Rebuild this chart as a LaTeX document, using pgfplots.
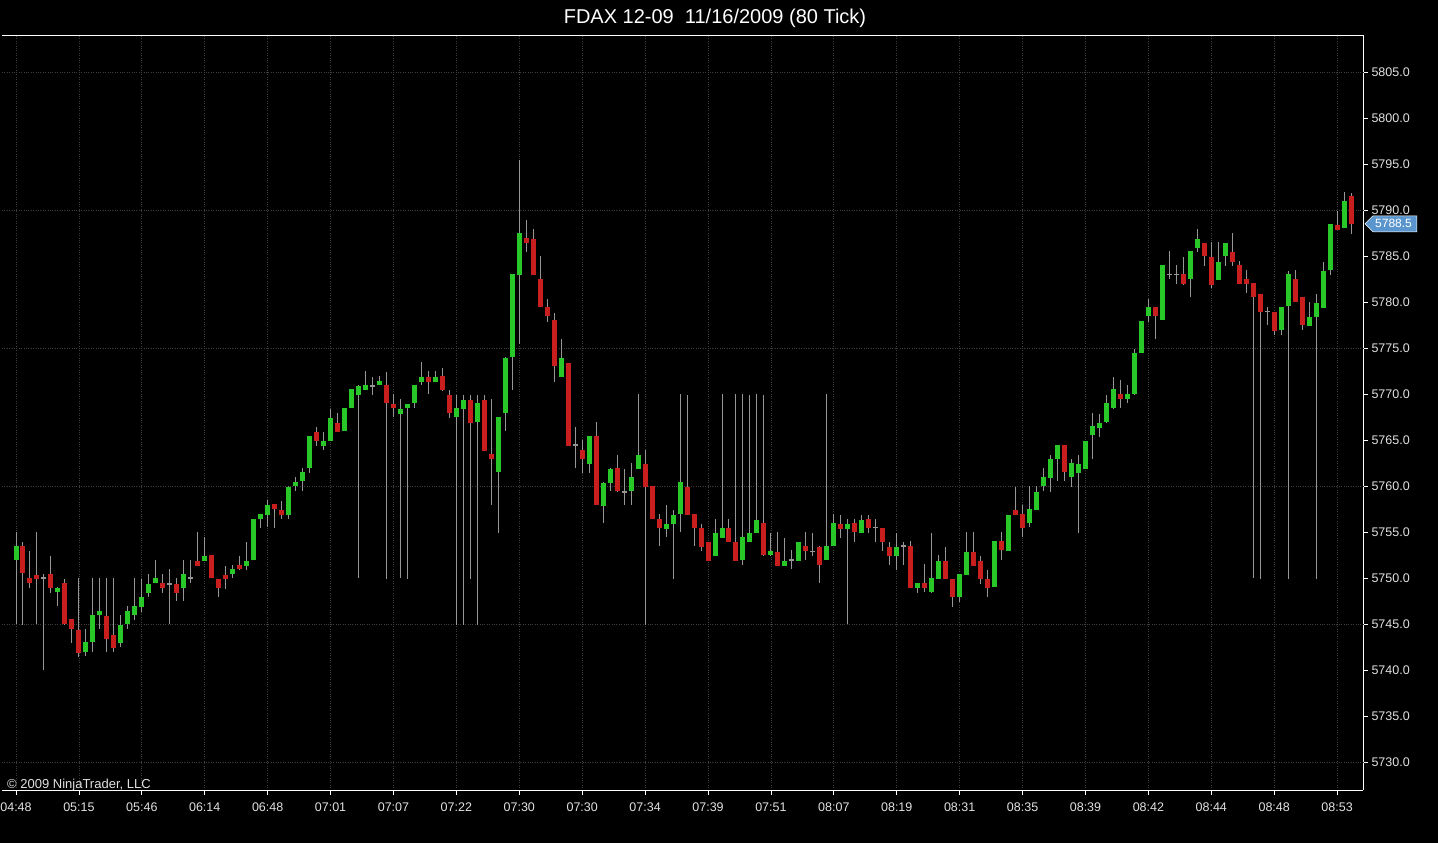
\documentclass[border=0pt]{standalone}
\usepackage{fontspec}
\setmainfont{Liberation Sans}
\usepackage{pgfplots}
\pgfplotsset{compat=1.18}
\usepackage{pgfplotstable}
\definecolor{upc}{RGB}{40,200,40}
\definecolor{dnc}{RGB}{200,30,30}
\definecolor{wick}{RGB}{150,150,150}
\definecolor{gridc}{RGB}{62,62,62}
\definecolor{mk}{RGB}{90,150,205}
\definecolor{tl}{RGB}{225,225,225}
\pgfplotstableread{
i o h l c
0 5752 5755 5745 5753.5
1 5753.5 5754 5745 5750.5
2 5750 5753 5749 5749.5
3 5750.5 5755 5745 5750
4 5750 5750.5 5740 5750
5 5750.5 5752.5 5748.5 5749
6 5748.5 5749 5747 5749
7 5749.5 5750 5745 5745
8 5745.5 5745.5 5743 5744.5
9 5744.5 5750 5741.5 5742
10 5742 5744.5 5741.5 5743
11 5743 5750 5742 5746
12 5746 5750 5744.5 5746.5
13 5746 5750 5742 5743.5
14 5744 5750 5742 5742.5
15 5743 5746 5742.5 5745
16 5745 5747 5744.5 5746.5
17 5746 5750 5745.5 5747
18 5747 5750 5746.5 5748
19 5748.5 5750.5 5748 5749.5
20 5749.5 5752 5749.5 5750
21 5749.5 5750.5 5748.5 5749
22 5749.5 5751 5745 5749.5
23 5749.5 5750 5747.5 5748.5
24 5749 5752 5747.5 5750.5
25 5750 5752 5749.5 5750
26 5752 5755 5751.5 5751.5
27 5752 5754.5 5752 5752.5
28 5752.5 5752.5 5750 5750
29 5750 5750 5748 5749
30 5750.5 5751.5 5749 5750
31 5750.5 5751.5 5750 5751
32 5751.5 5752.5 5751 5751
33 5751.5 5754 5751 5752
34 5752 5756.5 5752 5756.5
35 5756.5 5757 5755.5 5757
36 5757 5758.5 5755.5 5758
37 5758 5758 5755.5 5757.5
38 5757.5 5758.5 5756.5 5757
39 5757 5760 5756.5 5760
40 5760 5761 5759.5 5760.5
41 5760.5 5762 5759.5 5761.5
42 5762 5765.5 5761.5 5765.5
43 5766 5766.5 5764.5 5765
44 5764.5 5766 5764 5765
45 5765 5768.5 5765 5767.5
46 5767 5768 5766 5766
47 5766 5768.5 5766 5768.5
48 5768.5 5770.5 5768.5 5770.5
49 5770 5771 5750 5771
50 5770.5 5772.5 5770.5 5771
51 5771 5772 5770 5771
52 5771 5772 5771 5771.5
53 5771 5772.5 5750 5769
54 5769 5770 5767.5 5768.5
55 5768 5769.5 5750 5768.5
56 5768.5 5769 5750 5769
57 5769 5771 5768.5 5771
58 5771.5 5773.5 5771 5772
59 5772 5772.5 5770 5771.5
60 5771.5 5772.5 5771.5 5772
61 5772 5773 5770.5 5770.5
62 5770 5770.5 5767.5 5768
63 5767.5 5770 5745 5768.5
64 5768.5 5770 5745 5769.5
65 5769.5 5770 5750 5767
66 5767 5770 5745 5769
67 5769.5 5770 5764 5764
68 5763.5 5769.5 5758 5763
69 5761.5 5767.5 5755 5767.5
70 5768 5774 5766 5774
71 5774 5783 5770.5 5783
72 5783 5795.5 5775.5 5787.5
73 5787 5789 5785.5 5786.5
74 5787 5788 5783 5783
75 5782.5 5785 5779.5 5779.5
76 5779.5 5780.5 5778 5778.5
77 5778 5779 5771.5 5773
78 5772 5776 5772 5774
79 5773.5 5773.5 5764.5 5764.5
80 5764.5 5766.5 5762 5764.5
81 5764 5765 5761.5 5763
82 5762.5 5765.5 5761.5 5765.5
83 5765.5 5767 5758 5758
84 5758 5760.5 5756 5760.5
85 5760.5 5762 5759.5 5762
86 5762 5763.5 5759.5 5759.5
87 5759.5 5762 5758 5759.5
88 5759.5 5762.5 5758 5761
89 5762 5770 5762 5763.5
90 5762.5 5764 5745 5760
91 5760 5760 5756.5 5756.5
92 5756.5 5757 5753.5 5755.5
93 5755.5 5758 5754.5 5756
94 5756 5757.5 5750 5757
95 5757 5770 5755 5760.5
96 5760 5770 5757 5757
97 5757 5757 5753.5 5755.5
98 5755.5 5756 5753 5753.5
99 5754 5754 5752 5752
100 5752.5 5756.5 5752.5 5755
101 5754.5 5770 5754.5 5755.5
102 5755.5 5756.5 5754 5754
103 5754 5770 5752 5752
104 5752 5770 5751.5 5754.5
105 5754 5770 5754 5755
106 5755 5770 5755 5756.5
107 5756 5770 5752.5 5752.5
108 5752.5 5755 5752.5 5753
109 5753 5755 5751.5 5751.5
110 5751.5 5754.5 5751.5 5752
111 5752 5753 5751 5752
112 5752 5754 5752 5754
113 5753.5 5755 5752 5753
114 5753 5755 5752.5 5753
115 5753.5 5753.5 5749.5 5751.5
116 5752 5770 5752 5753.5
117 5753.5 5757 5753.5 5756
118 5756 5757 5754.5 5755.5
119 5755.5 5756.5 5745 5756
120 5756 5756.5 5754 5755
121 5755 5757 5755 5756.5
122 5756.5 5757 5755 5755.5
123 5755.5 5756.5 5754 5755.5
124 5755.5 5755.5 5753 5754
125 5753.5 5754 5751.5 5752.5
126 5752.5 5755 5751 5753.5
127 5753.5 5754 5751.5 5753.5
128 5753.5 5754 5749 5749
129 5749 5749.5 5748.5 5749.5
130 5749.5 5751.5 5748.5 5749
131 5748.5 5755 5748.5 5750
132 5750 5752.5 5750 5752
133 5752 5753.5 5750 5750
134 5750 5750 5747 5748
135 5748 5750.5 5747.5 5750.5
136 5750.5 5755 5750.5 5753
137 5753 5755 5751.5 5751.5
138 5752 5752.5 5749.5 5750
139 5750 5751 5748 5749
140 5749 5754 5749 5754
141 5754 5755 5752 5753
142 5753 5757 5753 5757
143 5757.5 5760 5757 5757
144 5757 5758 5754.5 5755.5
145 5756 5760 5755.5 5757.5
146 5757.5 5760 5757.5 5759.5
147 5760 5762 5759.5 5761
148 5761 5763.5 5759.5 5763
149 5763 5764.5 5760.5 5764.5
150 5764.5 5764.5 5760.5 5761.5
151 5761 5763 5760 5762.5
152 5761.5 5763.5 5755 5762.5
153 5762 5765 5762 5765
154 5765.5 5768 5763 5766.5
155 5766.5 5768 5765.5 5767
156 5767 5770 5767 5769
157 5768.5 5772 5768.5 5770.5
158 5770 5771.5 5768.5 5769.5
159 5769.5 5771 5769 5770
160 5770 5775 5770 5774.5
161 5774.5 5778 5774.5 5778
162 5778.5 5780.5 5778 5779.5
163 5779.5 5779.5 5776 5778.5
164 5778 5784 5778 5784
165 5783 5785.5 5782.5 5783
166 5783 5784 5782 5783
167 5783 5785 5782 5782
168 5782.5 5785.5 5780.5 5785.5
169 5786 5788 5785.5 5787
170 5786.5 5786.5 5784 5785
171 5785 5786.5 5781.5 5782
172 5782.5 5786.5 5782.5 5784.5
173 5785 5786.5 5784 5786.5
174 5785.5 5787.5 5784 5784.5
175 5784 5784.5 5782 5782
176 5782.5 5783.5 5781 5782
177 5782 5782 5750 5780.5
178 5781 5781 5750 5779
179 5779 5779.5 5777.5 5779
180 5779 5779 5776.5 5777
181 5777 5779.5 5776.5 5779.5
182 5779.5 5783.5 5750 5783
183 5782.5 5783.5 5780 5780
184 5780.5 5780.5 5777 5777.5
185 5777.5 5780 5777.5 5778.5
186 5778.5 5781 5750 5780
187 5779.5 5784.5 5779.5 5783.5
188 5783.5 5788.5 5783 5788.5
189 5788.5 5790 5788 5788
190 5788 5792 5788 5791
191 5791.5 5792 5787.5 5788.5
}\candles
\begin{document}
\begin{tikzpicture}[x=1pt,y=1pt]
\fill[black] (0,0) rectangle (1438,843);
\begin{axis}[
  at={(2pt,53pt)}, anchor=south west,
  scale only axis, width=1361pt, height=755pt,
  xmin=-2.003, xmax=192.70, ymin=5726.96, ymax=5809.02,
  axis x line*=bottom, axis y line*=right,
  axis background/.style={fill=black},
  axis line style={white, line width=0.8pt},
  xtick={0,9,...,189},
  xticklabels={04:48,05:15,05:46,06:14,06:48,07:01,07:07,07:22,07:30,07:30,07:34,07:39,07:51,08:07,08:19,08:31,08:35,08:39,08:42,08:44,08:48,08:53},
  ytick={5730,5735,...,5805},
  y tick label style={/pgf/number format/.cd, fixed, fixed zerofill, precision=1, 1000 sep={}},
  x tick label style={yshift=-4pt},
  /pgf/number format/assume math mode=true,
  tick label style={font=\fontsize{12.5}{14}\selectfont, text=tl},
  major tick length=5pt,
  tick style={white, line width=0.8pt},
  tick align=outside,
  xmajorgrids=true,
  grid style={gridc, dotted, line width=0.8pt},
  extra y ticks={5730,5745,5760,5775,5790,5805},
  extra y tick labels={},
  extra y tick style={ymajorgrids=true, major tick length=0pt},
]
% wicks
\addplot[draw=none, mark=none,
  error bars/.cd, y dir=both, y explicit, error mark=none,
  error bar style={draw=wick, line width=1pt}]
  table[x=i, y expr={(\thisrow{h}+\thisrow{l})/2}, y error expr={(\thisrow{h}-\thisrow{l})/2}] {\candles};
% up bodies
\addplot[draw=none, mark=none,
  restrict expr to domain={\thisrow{c}-\thisrow{o}}{0.1:100},
  error bars/.cd, y dir=both, y explicit, error mark=none,
  error bar style={draw=upc, line width=5pt}]
  table[x=i, y expr={(\thisrow{o}+\thisrow{c})/2}, y error expr={abs(\thisrow{c}-\thisrow{o})/2}] {\candles};
% down bodies
\addplot[draw=none, mark=none,
  restrict expr to domain={\thisrow{o}-\thisrow{c}}{0.1:100},
  error bars/.cd, y dir=both, y explicit, error mark=none,
  error bar style={draw=dnc, line width=5pt}]
  table[x=i, y expr={(\thisrow{o}+\thisrow{c})/2}, y error expr={abs(\thisrow{c}-\thisrow{o})/2}] {\candles};
% doji
\addplot[draw=none, mark=none,
  restrict expr to domain={\thisrow{o}-\thisrow{c}}{-0.1:0.1},
  error bars/.cd, y dir=both, y explicit, error mark=none,
  error bar style={draw=wick, line width=5pt}]
  table[x=i, y expr={(\thisrow{o}+\thisrow{c})/2}, y error expr={0.06}] {\candles};
\draw[white, line width=0.8pt] (rel axis cs:0,1) -- (rel axis cs:1,1);
\coordinate (lp) at (axis cs:192.70,5788.5);
\end{axis}
\fill[mk, draw=white, line width=0.5pt] ([xshift=2pt]lp) -- ([xshift=10pt,yshift=8pt]lp) -- ([xshift=54pt,yshift=8pt]lp) -- ([xshift=54pt,yshift=-8pt]lp) -- ([xshift=10pt,yshift=-8pt]lp) -- cycle;
\node[anchor=west, text=white, font=\fontsize{12}{14}\selectfont, inner sep=0pt] at ([xshift=12pt]lp) {5788.5};
\node[anchor=base, text=white, font=\fontsize{20}{24}\selectfont] at (715,819) {FDAX 12-09\ \ 11/16/2009 (80 Tick)};
\node[anchor=west, text=tl, font=\fontsize{13}{15}\selectfont, inner sep=0pt] at (7,58) {© 2009 NinjaTrader, LLC};
\pgfresetboundingbox
\useasboundingbox (0,0) rectangle (1438,843);
\end{tikzpicture}
\end{document}
